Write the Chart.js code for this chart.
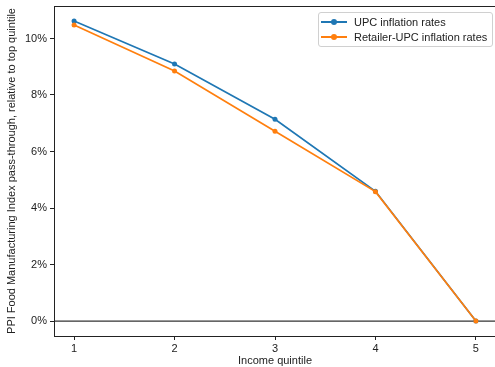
<!DOCTYPE html>
<html>
<head>
<meta charset="utf-8">
<script src="https://cdn.jsdelivr.net/npm/chart.js@4.4.1/dist/chart.umd.min.js"></script>
<style>
  html, body { margin: 0; padding: 0; background: #fff; overflow: hidden; }
  #wrap { position: relative; width: 500px; height: 367px; }
  #legend {
    position: absolute; left: 318px; top: 12px; width: 175px; height: 35px;
    border: 1px solid #d0d0d0; border-radius: 3px; background: rgba(255,255,255,.8);
    font: 11px "Liberation Sans", Arial, sans-serif; color: #222; box-sizing: border-box;
  }
  .lg-row { position: absolute; left: 2px; height: 14px; line-height: 14px; white-space: nowrap; }
  .lg-line { position: absolute; left: 0; top: 6px; width: 26px; height: 2px; }
  .lg-dot { position: absolute; left: 10px; top: 4px; width: 6px; height: 6px; border-radius: 50%; }
  .lg-text { position: absolute; left: 33px; top: 0; }
</style>
</head>
<body>
<div id="wrap">
  <canvas id="chart" width="500" height="367"></canvas>
  <div id="legend"></div>
</div>
<script>
/* ── 데이터 ── */
const quintiles = [1, 2, 3, 4, 5];
const upcRates = [10.62, 9.10, 7.14, 4.59, 0.0];
const retailerRates = [10.48, 8.85, 6.72, 4.58, 0.0];
const yTicks = [0, 2, 4, 6, 8, 10];
const seriesLabels = ['UPC inflation rates', 'Retailer-UPC inflation rates'];

const C = { blue: '#1f77b4', orange: '#ff7f0e', ink: '#222' };
const FONT = '"Liberation Sans", Arial, sans-serif';

/* ── 상자 테두리 + 0% 선 ── */
const framePlugin = {
  id: 'frame',
  beforeDatasetsDraw(chart) {
    const { ctx, chartArea: a, scales } = chart;
    const y0 = scales.y.getPixelForValue(0);
    ctx.save();
    ctx.strokeStyle = '#333';
    ctx.lineWidth = 1.2;
    ctx.beginPath();
    ctx.moveTo(a.left, y0);
    ctx.lineTo(a.right, y0);
    ctx.stroke();
    ctx.restore();
  },
  afterDraw(chart) {
    const { ctx, chartArea: a } = chart;
    ctx.save();
    ctx.strokeStyle = C.ink;
    ctx.lineWidth = 1;
    ctx.strokeRect(a.left + 0.5, a.top + 0.5, a.right - a.left, a.bottom - a.top);
    ctx.restore();
  }
};

function series(label, vals, color, order) {
  return {
    label,
    order,
    data: quintiles.map((q, i) => ({ x: q, y: vals[i] })),
    borderColor: color,
    backgroundColor: color,
    borderWidth: 1.7,
    pointRadius: 2.5,
    pointBorderWidth: 0,
    tension: 0,
  };
}

new Chart(document.getElementById('chart'), {
  type: 'line',
  data: {
    datasets: [
      series(seriesLabels[0], upcRates, C.blue, 1),
      series(seriesLabels[1], retailerRates, C.orange, 0),
    ],
  },
  options: {
    responsive: false,
    animation: false,
    layout: { padding: { left: 0, top: 6, right: 0, bottom: 0 } },
    plugins: { legend: { display: false }, tooltip: { enabled: false } },
    scales: {
      x: {
        type: 'linear',
        min: 0.8, max: 5.2,
        afterBuildTicks: s => { s.ticks = quintiles.map(v => ({ value: v })); },
        afterFit: s => { s.height = 31; s.paddingLeft = 0; s.paddingRight = 0; },
        grid: { drawOnChartArea: false, tickLength: 4, color: C.ink },
        border: { color: C.ink },
        ticks: { color: C.ink, font: { family: FONT, size: 11 }, padding: 2, maxRotation: 0 },
        title: { display: true, text: 'Income quintile', color: C.ink, font: { family: FONT, size: 11 }, padding: { top: 0, bottom: -1 } },
      },
      y: {
        min: -0.53, max: 11.15,
        afterBuildTicks: s => { s.ticks = yTicks.map(v => ({ value: v })); },
        afterFit: s => { s.width = 54; s.paddingTop = 0; s.paddingBottom = 0; },
        grid: { drawOnChartArea: false, tickLength: 4, color: C.ink },
        border: { color: C.ink },
        ticks: { color: C.ink, font: { family: FONT, size: 11 }, padding: 3, callback: v => v + '%' },
        title: { display: true, text: 'PPI Food Manufacturing Index pass-through, relative to top quintile', color: C.ink, font: { family: FONT, size: 11 }, padding: { top: 5, bottom: 0 } },
      },
    },
  },
  plugins: [framePlugin],
});

/* ── 범례 ── */
const lg = document.getElementById('legend');
[C.blue, C.orange].forEach((col, i) => {
  const row = document.createElement('div');
  row.className = 'lg-row';
  row.style.top = (2 + i * 15) + 'px';
  row.innerHTML = `<span class="lg-line" style="background:${col}"></span>` +
    `<span class="lg-dot" style="background:${col}"></span>` +
    `<span class="lg-text">${seriesLabels[i]}</span>`;
  lg.appendChild(row);
});
</script>
</body>
</html>
